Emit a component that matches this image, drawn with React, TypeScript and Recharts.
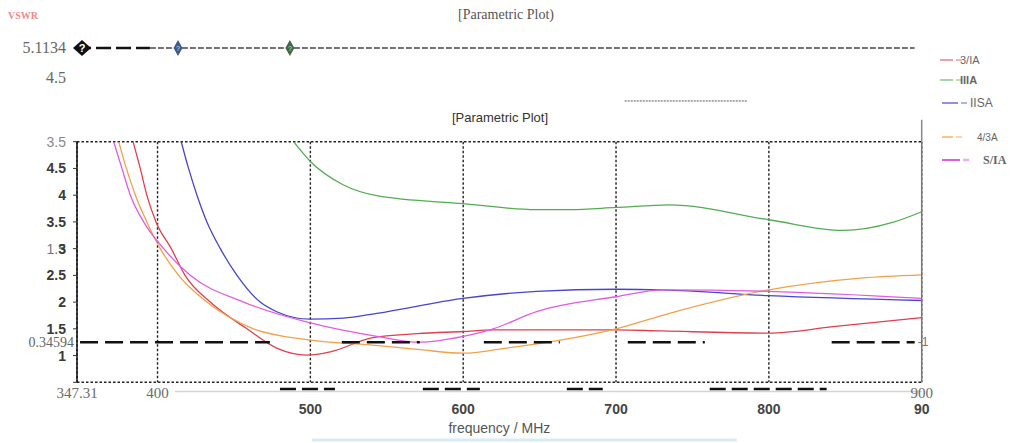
import React from 'react'
import { CartesianGrid, Line, LineChart, ReferenceLine, XAxis, YAxis } from 'recharts'

const SERIES_NAMES = ['3/IA', 'IIIA', 'IISA', '4/3A', 'S/IA']
const SERIES_COLORS = ['#e0404c', '#52ad52', '#4646cc', '#f2a04c', '#e25ce2']

const redFreq = [384, 388.7, 393, 399, 409, 418, 434.5, 458.5, 478, 497.7, 513, 540, 570, 600, 620, 700, 730, 800, 842, 900]
const redVswr = [5.0, 4.5, 4.0, 3.5, 3.0, 2.5, 2.0, 1.5, 1.14, 1.01, 1.07, 1.33, 1.41, 1.45, 1.48, 1.48, 1.46, 1.42, 1.54, 1.71]

const greenFreq = [489, 500, 521.7, 543.5, 600, 648, 670, 700, 735, 800, 848.5, 881, 900]
const greenVswr = [5.0, 4.63, 4.19, 3.99, 3.84, 3.73, 3.73, 3.77, 3.82, 3.54, 3.34, 3.49, 3.69]

const blueFreq = [415.5, 420.3, 425.8, 432.3, 441.1, 452, 467.2, 478, 500, 521.7, 543.5, 600, 648, 700, 730, 800, 900]
const blueVswr = [5.0, 4.5, 4.0, 3.5, 3.0, 2.5, 2.0, 1.82, 1.68, 1.7, 1.79, 2.07, 2.2, 2.24, 2.23, 2.12, 2.03]

const orangeFreq = [374.6, 379.6, 385.5, 393, 401.8, 413.8, 432.3, 462.8, 500, 539, 571.6, 600, 626, 670, 700, 735, 800, 860, 900]
const orangeVswr = [5.0, 4.5, 4.0, 3.5, 3.0, 2.5, 2.0, 1.5, 1.29, 1.2, 1.11, 1.045, 1.13, 1.32, 1.5, 1.79, 2.23, 2.45, 2.51]

const magentaFreq = [371.3, 376.7, 382.2, 390.9, 404, 421.4, 456.3, 500, 543.5, 571.6, 600, 619.6, 648, 700, 731, 800, 900]
const magentaVswr = [5.0, 4.5, 4.0, 3.5, 3.0, 2.5, 2.0, 1.61, 1.36, 1.25, 1.36, 1.5, 1.82, 2.1, 2.23, 2.2, 2.07]

const xTicks = [347.31, 400, 500, 600, 700, 800, 900]
const xUpperLabels = ['347.31', '400', '', '', '', '', '900']
const xLowerLabels = ['', '', '500', '600', '700', '800', '90']

const yTicks = [0.5, 1, 1.5, 2, 2.5, 3, 3.5, 4, 4.5, 5]
const yTickLabels = ['', '1', '1.5', '2', '2.5', '3', '3.5', '4', '4.5', '3.5']
const yGhostLabels = ['', '', '', '', '', '1.5', '', '', '', '']

const MID_DASH_LEVEL = 1.25
const midDashStart = [349.3, 520.6, 613.5, 707.7, 841.1]
const midDashEnd = [473.5, 571.6, 663.2, 758.1, 895.4]

const LOW_DASH_LEVEL = 0.376
const lowDashStart = [480.1, 573.6, 667.8, 761.3]
const lowDashEnd = [516.1, 610.9, 691.3, 837.8]

const TOP_LEVEL = 5.1134
const topFreq = [350.6, 395, 413.4, 486.6, 895.4]
const topMarks = ['black', '', 'blue', 'green', '']
const topTicks = [4.5, 5.1134]
const topTickLabels = ['4.5', '5.1134']
const topDotLevel = 4.03
const topDotRange = [705.7, 786.2]

const series = [
  { freq: redFreq, vswr: redVswr },
  { freq: greenFreq, vswr: greenVswr },
  { freq: blueFreq, vswr: blueVswr },
  { freq: orangeFreq, vswr: orangeVswr },
  { freq: magentaFreq, vswr: magentaVswr },
].map((s, i) => ({
  name: SERIES_NAMES[i],
  color: SERIES_COLORS[i],
  data: s.freq.map((f, j) => ({ f, v: s.vswr[j] })),
}))

const topData = topFreq.map((f, i) => ({ f, v: TOP_LEVEL, mark: topMarks[i] }))

const SERIF = '"Liberation Serif", "DejaVu Serif", serif'
const SANS = '"Liberation Sans", Arial, sans-serif'

function FreqTick({ x, y, payload }: any) {
  const i = xTicks.indexOf(payload.value)
  return (
    <g>
      {xUpperLabels[i] ? (
        <text x={x} y={y + 16} textAnchor="middle" fontFamily={SERIF} fontSize={15} fill="#6b6b6b">
          {xUpperLabels[i]}
        </text>
      ) : null}
      {xLowerLabels[i] ? (
        <text x={x} y={y + 32} textAnchor="middle" fontFamily={SANS} fontSize={14} fontWeight="bold" fill="#444">
          {xLowerLabels[i]}
        </text>
      ) : null}
    </g>
  )
}

function VswrTick({ x, y, payload }: any) {
  const i = yTicks.indexOf(payload.value)
  const top = payload.value === 5
  return (
    <g>
      {yGhostLabels[i] ? (
        <text x={x} y={y + 5} textAnchor="end" fontFamily={SANS} fontSize={14} fill="#777">
          {yGhostLabels[i]}
        </text>
      ) : null}
      <text
        x={x}
        y={y + 5}
        textAnchor="end"
        fontFamily={SANS}
        fontSize={14}
        fontWeight={top ? 'normal' : 'bold'}
        fill={top ? '#8a8a8a' : '#3a3a3a'}
      >
        {yTickLabels[i]}
      </text>
    </g>
  )
}

function TopTick({ x, y, payload }: any) {
  const i = topTicks.indexOf(payload.value)
  return (
    <text x={x} y={y + 5} textAnchor="end" fontFamily={SERIF} fontSize={16} fill="#666">
      {topTickLabels[i]}
    </text>
  )
}

function TopMarker({ cx, cy, payload }: any) {
  if (payload.mark === 'black') {
    return (
      <g>
        <path d={`M${cx - 9},${cy} L${cx},${cy - 8} L${cx + 9},${cy} L${cx},${cy + 8} Z`} fill="#111" />
        <text x={cx} y={cy + 4} textAnchor="middle" fontFamily={SANS} fontSize={11} fontWeight="bold" fill="#fff">
          ?
        </text>
      </g>
    )
  }
  if (payload.mark === 'blue' || payload.mark === 'green') {
    const fill = payload.mark === 'blue' ? '#3d5a8c' : '#3d6b3d'
    return (
      <g>
        <path d={`M${cx - 4.5},${cy} L${cx},${cy - 8} L${cx + 4.5},${cy} L${cx},${cy + 8} Z`} fill={fill} />
        <text x={cx} y={cy + 3} textAnchor="middle" fontFamily={SANS} fontSize={7} fill="#dde">
          ?
        </text>
      </g>
    )
  }
  return <g />
}

function SideLegend() {
  const rows = [
    { y: 60, lx: 940, lw: 13, w: 1, tx: 960, font: SANS, size: 11, weight: 'normal' },
    { y: 80, lx: 940, lw: 13, w: 1, tx: 960, font: SANS, size: 11, weight: 'bold' },
    { y: 103, lx: 942, lw: 16, w: 1.2, tx: 970, font: SANS, size: 12, weight: 'normal' },
    { y: 137, lx: 942, lw: 11, w: 1.2, tx: 977, font: SANS, size: 10, weight: 'normal' },
    { y: 160, lx: 942, lw: 18, w: 2, tx: 983, font: SERIF, size: 12, weight: 'bold' },
  ]
  return (
    <svg width={1012} height={200} style={{ position: 'absolute', left: 0, top: 0 }}>
      {rows.map((r, i) => (
        <g key={SERIES_NAMES[i]}>
          <line x1={r.lx} x2={r.lx + r.lw} y1={r.y} y2={r.y} stroke={SERIES_COLORS[i]} strokeWidth={r.w} />
          <line
            x1={r.lx + r.lw + 3}
            x2={r.lx + r.lw + 9}
            y1={r.y}
            y2={r.y}
            stroke={SERIES_COLORS[i]}
            strokeOpacity={0.5}
            strokeWidth={r.w + 0.5}
          />
          <text x={r.tx} y={r.y + 4} fontFamily={r.font} fontSize={r.size} fontWeight={r.weight} fill="#666">
            {SERIES_NAMES[i]}
          </text>
        </g>
      ))}
    </svg>
  )
}

export default function App() {
  return (
    <div style={{ position: 'absolute', left: 0, top: 0, width: 1012, height: 443, background: '#fff', overflow: 'hidden' }}>
      <div style={{ position: 'absolute', left: 0, top: 0 }}>
        <LineChart width={1012} height={443} margin={{ top: 141.7, right: 70.3, bottom: 10.7, left: 17 }}>
          <CartesianGrid stroke="#222" strokeWidth={1.4} strokeDasharray="2.5 2" />
          <XAxis
            type="number"
            dataKey="f"
            domain={[347.31, 900]}
            ticks={xTicks}
            height={50}
            axisLine={false}
            tickLine={false}
            tickSize={0}
            tickMargin={0}
            tick={<FreqTick />}
            allowDataOverflow
            label={{
              value: 'frequency / MHz',
              position: 'insideBottom',
              offset: -1,
              fill: '#555',
              fontSize: 14,
              fontFamily: SANS,
            }}
          />
          <YAxis
            yAxisId="l"
            type="number"
            domain={[0.5, 5]}
            ticks={yTicks}
            width={60}
            axisLine={{ stroke: '#111', strokeWidth: 1.5 }}
            tickLine={{ stroke: '#333' }}
            tickSize={4}
            tickMargin={7}
            tick={<VswrTick />}
            allowDataOverflow
          />
          <YAxis
            yAxisId="r"
            orientation="right"
            type="number"
            domain={[0.5, 5]}
            width={20}
            axisLine={{ stroke: '#777', strokeWidth: 1.5 }}
            tick={false}
            tickLine={false}
          />
          <ReferenceLine
            yAxisId="l"
            segment={[{ x: 900, y: 5 }, { x: 900, y: 5.41 }]}
            stroke="#888"
            strokeWidth={1.5}
            ifOverflow="visible"
          />
          <ReferenceLine
            yAxisId="l"
            segment={[{ x: 411.4, y: 0.326 }, { x: 900, y: 0.326 }]}
            stroke="#d4d4d4"
            strokeWidth={1.5}
            ifOverflow="visible"
          />
          <ReferenceLine
            yAxisId="l"
            segment={[{ x: 501, y: -0.58 }, { x: 779, y: -0.58 }]}
            stroke="#d8ecf8"
            strokeWidth={3}
            ifOverflow="visible"
          />
          {series.map((s) => (
            <Line
              key={s.name}
              yAxisId="l"
              data={s.data}
              dataKey="v"
              name={s.name}
              type="monotone"
              stroke={s.color}
              strokeWidth={1.3}
              dot={false}
              activeDot={false}
              isAnimationActive={false}
            />
          ))}
          {midDashStart.map((start, i) => (
            <ReferenceLine
              key={`mid-${start}`}
              yAxisId="l"
              segment={[{ x: start, y: MID_DASH_LEVEL }, { x: midDashEnd[i], y: MID_DASH_LEVEL }]}
              stroke="#111"
              strokeWidth={2.5}
              strokeDasharray="18 7"
              ifOverflow="visible"
              label={
                i === 0
                  ? { value: '0.34594', position: 'left', offset: 6, fill: '#666', fontSize: 14, fontFamily: SERIF }
                  : i === midDashStart.length - 1
                    ? { value: '-1', position: 'right', offset: 3, fill: '#777', fontSize: 12, fontFamily: SANS }
                    : undefined
              }
            />
          ))}
          {lowDashStart.map((start, i) => (
            <ReferenceLine
              key={`low-${start}`}
              yAxisId="l"
              segment={[{ x: start, y: LOW_DASH_LEVEL }, { x: lowDashEnd[i], y: LOW_DASH_LEVEL }]}
              stroke="#111"
              strokeWidth={2.5}
              strokeDasharray="16 6"
              ifOverflow="visible"
            />
          ))}
        </LineChart>
      </div>

      <div style={{ position: 'absolute', left: 0, top: 0 }}>
        <LineChart width={1012} height={110} margin={{ top: 48, right: 90.3, bottom: 32, left: 17 }}>
          <XAxis type="number" dataKey="f" domain={[347.31, 900]} hide />
          <YAxis
            type="number"
            domain={[4.5, TOP_LEVEL]}
            ticks={topTicks}
            width={60}
            axisLine={false}
            tickLine={false}
            tickSize={0}
            tickMargin={11}
            tick={<TopTick />}
          />
          <ReferenceLine
            segment={[{ x: topDotRange[0], y: topDotLevel }, { x: topDotRange[1], y: topDotLevel }]}
            stroke="#555"
            strokeDasharray="2 1"
            ifOverflow="visible"
          />
          <Line
            data={topData.slice(1)}
            dataKey="v"
            stroke="#444"
            strokeWidth={1.3}
            strokeDasharray="6 2"
            dot={<TopMarker />}
            activeDot={false}
            isAnimationActive={false}
          />
          <Line
            data={topData.slice(0, 2)}
            dataKey="v"
            stroke="#111"
            strokeWidth={2.5}
            strokeDasharray="15 5"
            strokeDashoffset={-14}
            dot={<TopMarker />}
            activeDot={false}
            isAnimationActive={false}
          />
        </LineChart>
      </div>

      <SideLegend />

      <div style={{ position: 'absolute', left: 8, top: 11, fontFamily: SERIF, fontSize: 10, fontWeight: 'bold', color: '#f08a8a', lineHeight: 1 }}>
        VSWR
      </div>
      <div style={{ position: 'absolute', left: 0, width: 1012, top: 8, textAlign: 'center', fontFamily: SERIF, fontSize: 14, color: '#555', lineHeight: 1 }}>
        [Parametric Plot)
      </div>
      <div style={{ position: 'absolute', left: 0, width: 1000, top: 111, textAlign: 'center', fontFamily: SANS, fontSize: 13, color: '#333', lineHeight: 1 }}>
        [Parametric Plot]
      </div>
    </div>
  )
}
